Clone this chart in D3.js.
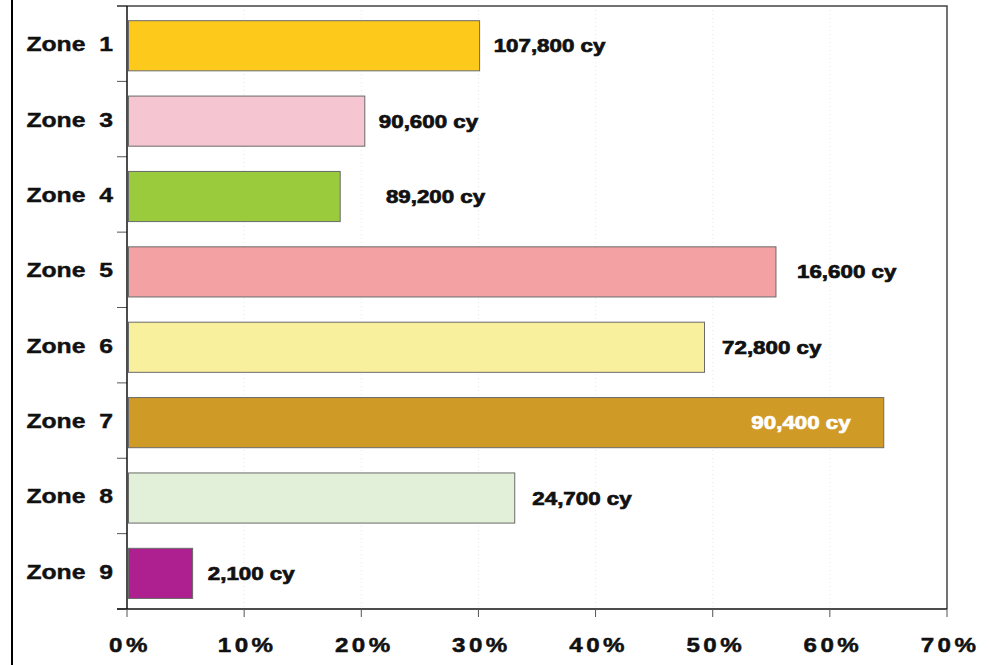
<!DOCTYPE html>
<html lang="en">
<head>
    <meta charset="UTF-8">
    <title>Zones</title>
    <style>
        body {
            margin: 0;
            background: #fff;
        }
        svg text {
            font-family: 'Liberation Sans', Arial, sans-serif;
            font-weight: bold;
            white-space: pre;
        }
    </style>
</head>
<body>
    <div id="chart"></div>
    <script src="https://d3js.org/d3.v7.min.js"></script>
    <script>
        // data
        const zones = ["Zone  1", "Zone  3", "Zone  4", "Zone  5", "Zone  6", "Zone  7", "Zone  8", "Zone  9"];
        const percents = [30.1, 20.3, 18.2, 55.4, 49.3, 64.6, 33.1, 5.6];
        const volumes = ["107,800 cy", "90,600 cy", "89,200 cy", "16,600 cy", "72,800 cy", "90,400 cy", "24,700 cy", "2,100 cy"];
        // where each volume label starts, in % units (as placed on the original)
        const labelAt = [31.3, 21.5, 22.1, 57.2, 50.8, 53.3, 34.6, 6.9];
        const colors = ["#fdc91b", "#f6c5d2", "#9acb3d", "#f4a1a3", "#f9f09e", "#d09a27", "#e2efd9", "#ae1f8f"];
        const xTicks = [0, 10, 20, 30, 40, 50, 60, 70];

        const width = 989;
        const height = 665;
        const plotL = 127, plotR = 947, plotT = 6, plotB = 609;

        const svg = d3.select("#chart")
            .append("svg")
            .attr("width", width)
            .attr("height", height);

        const x = d3.scaleLinear().domain([0, 70]).range([plotL, plotR]);
        const y = d3.scaleBand().domain(zones).range([plotT, plotB]);
        const bw = y.bandwidth();

        const rows = zones.map((z, i) => ({
            zone: z, pct: percents[i], vol: volumes[i], at: labelAt[i], color: colors[i]
        }));

        // black rule on the far left
        svg.append("line")
            .attr("x1", 12).attr("x2", 12)
            .attr("y1", 0).attr("y2", height)
            .attr("stroke", "#000")
            .attr("stroke-width", 2);

        // faint dotted grid
        svg.append("g")
            .selectAll("line")
            .data(xTicks.slice(1, -1))
            .join("line")
            .attr("x1", d => x(d)).attr("x2", d => x(d))
            .attr("y1", plotT).attr("y2", plotB)
            .attr("stroke", "#e8e8e8")
            .attr("stroke-dasharray", "1,3");

        // frame: top and right
        svg.append("path")
            .attr("d", `M${plotL - 10},${plotT}H${plotR}V${plotB}`)
            .attr("fill", "none")
            .attr("stroke", "#444")
            .attr("stroke-width", 1.5);

        // y ticks on band boundaries
        const bounds = zones.map(z => y(z)).concat([plotB]);
        svg.append("g")
            .selectAll("line")
            .data(bounds)
            .join("line")
            .attr("x1", plotL - 10).attr("x2", plotL)
            .attr("y1", d => d).attr("y2", d => d)
            .attr("stroke", "#555")
            .attr("stroke-width", 1);

        // bars
        svg.append("g")
            .selectAll("rect")
            .data(rows)
            .join("rect")
            .attr("x", x(0) + 1.5)
            .attr("y", d => y(d.zone) + bw * 0.195)
            .attr("width", d => x(d.pct) - x(0) - 1.5)
            .attr("height", bw * 0.665)
            .attr("fill", d => d.color)
            .attr("stroke", "#6a6a6a")
            .attr("stroke-width", 1);

        // axes lines
        svg.append("line")
            .attr("x1", plotL).attr("x2", plotL)
            .attr("y1", plotT).attr("y2", plotB)
            .attr("stroke", "#111")
            .attr("stroke-width", 1.5);
        svg.append("line")
            .attr("x1", plotL - 10).attr("x2", plotR)
            .attr("y1", plotB).attr("y2", plotB)
            .attr("stroke", "#111")
            .attr("stroke-width", 1.5);

        // x ticks and labels
        const xg = svg.append("g");
        xg.selectAll("line")
            .data(xTicks)
            .join("line")
            .attr("x1", d => x(d)).attr("x2", d => x(d))
            .attr("y1", plotB).attr("y2", plotB + 8)
            .attr("stroke", "#555");
        xg.selectAll("text")
            .data(xTicks)
            .join("text")
            .attr("transform", d => `translate(${x(d) + 3},652) scale(1.15,1)`)
            .attr("text-anchor", "middle")
            .attr("font-size", 21)
            .attr("letter-spacing", 3)
            .attr("fill", "#111")
            .attr("stroke", "#111")
            .attr("stroke-width", 0.5)
            .text(d => d + "%");

        // zone labels
        svg.append("g")
            .selectAll("text")
            .data(rows)
            .join("text")
            .attr("transform", d => `translate(113,${y(d.zone) + bw / 2 + 7.5}) scale(1.27,1)`)
            .attr("text-anchor", "end")
            .attr("font-size", 19.5)
            .attr("fill", "#111")
            .attr("stroke", "#111")
            .attr("stroke-width", 0.4)
            .text(d => d.zone);

        // value labels; white when sitting on the bar
        svg.append("g")
            .selectAll("text")
            .data(rows)
            .join("text")
            .each(function (d) {
                const onBar = d.at < d.pct;
                const cy = y(d.zone) + bw * 0.195 + bw * 0.665 / 2 + 6.5;
                d3.select(this)
                    .attr("transform", `translate(${x(d.at)},${cy}) scale(1.24,1)`)
                    .attr("fill", onBar ? "#fff" : "#111")
                    .attr("stroke", onBar ? "#fff" : "#111")
                    .attr("stroke-width", 0.7);
            })
            .attr("font-size", 18)
            .text(d => d.vol);
    </script>
</body>
</html>
